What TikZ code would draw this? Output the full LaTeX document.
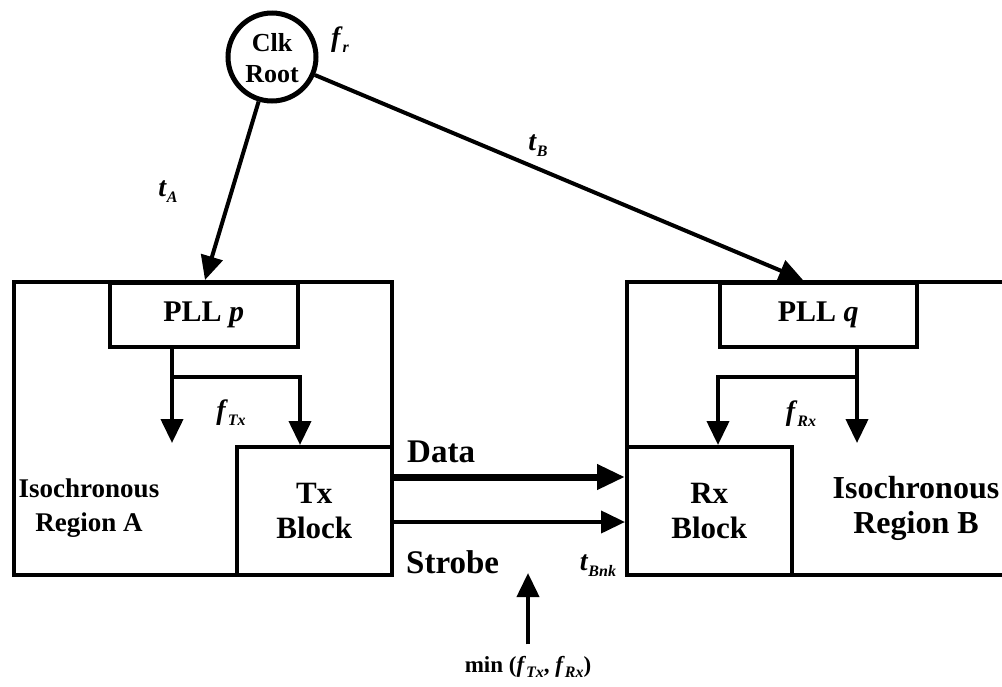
\documentclass[tikz,border=0pt]{standalone}
\usepackage{fontspec}
\setmainfont{Liberation Serif}
\usetikzlibrary{arrows.meta}
\newcommand{\sym}[2]{\textbf{\textit{#1}}\raisebox{-0.45ex}{\fontsize{16}{16}\selectfont\textbf{\textit{#2}}}}
\tikzset{
  region/.style={draw, line width=4pt, anchor=north west, inner sep=0pt},
  block/.style={draw, line width=3.5pt, anchor=north west, inner sep=0pt, fill=white},
  lbl/.style={font=\fontsize{30}{34}\selectfont\bfseries, align=center, inner sep=0pt},
  sm/.style={font=\fontsize{28}{30}\selectfont, inner sep=0pt},
  wire/.style={line width=4pt},
  tip/.style={-{Triangle[length=24pt,width=22pt]}},
  bigtip/.style={-{Triangle[length=28pt,width=24pt]}},
}
\begin{document}
\begin{tikzpicture}[x=1pt,y=-1pt]
\useasboundingbox (0,0) rectangle (1002,686);
\clip (0,0) rectangle (1002,686);

% clock root
\node[circle, draw, line width=5pt, minimum size=88pt, inner sep=0pt] (root) at (272,57) {};
\node[lbl, font=\fontsize{26}{31}\selectfont\bfseries] (roottxt) at (272,58) {Clk\\Root};
\node[sm] (fr) at (340,40) {\sym{f}{r}};

% isochronous regions
\node[region, minimum width=378pt, minimum height=293pt] (regA) at (12,280) {};
\node[region, minimum width=420pt, minimum height=293pt] (regB) at (625,280) {};

% PLLs
\node[block, minimum width=188pt, minimum height=64pt] (pllp) at (108,281) {};
\node[lbl] at (pllp.center) {PLL \textit{p}};
\node[block, minimum width=197pt, minimum height=64pt] (pllq) at (718,281) {};
\node[lbl] at (pllq.center) {PLL \textit{q}};

% Tx / Rx blocks
\node[block, minimum width=155pt, minimum height=128pt] (tx) at (235,445) {};
\node[lbl, font=\fontsize{31}{35}\selectfont\bfseries] at (tx.center) {Tx\\Block};
\node[block, minimum width=165pt, minimum height=128pt] (rx) at (625,445) {};
\node[lbl, font=\fontsize{31}{35}\selectfont\bfseries] at (rx.center) {Rx\\Block};

\node[lbl, font=\fontsize{27}{34}\selectfont\bfseries] (isoA) at (89,508) {Isochronous\\Region A};
\node[lbl, font=\fontsize{32}{35}\selectfont\bfseries] (isoB) at (916,508) {Isochronous\\Region B};

% clock distribution from the root
\coordinate (inA) at (205,280);
\coordinate (inB) at (803,280);
\draw[wire, tip] (root) -- (inA);
\draw[wire, tip] (root) -- (inB);
\node[sm] (tA) at (168,192) {\sym{t}{A}};
\node[sm] (tB) at (538,146) {\sym{t}{B}};

% PLL p outputs
\coordinate (pA) at (172,345);
\coordinate (jA) at (172,377);
\coordinate (endA) at (172,443);
\coordinate (kA) at (300,377);
\draw[wire, tip] (pA) -- (endA);
\draw[wire, tip] (jA) -- (kA) -- (tx.north -| kA);
\node[sm] (ftx) at (231,413) {\sym{f}{Tx}};

% PLL q outputs
\coordinate (pB) at (857,345);
\coordinate (jB) at (857,377);
\coordinate (endB) at (857,443);
\coordinate (kB) at (718,377);
\draw[wire, tip] (pB) -- (endB);
\draw[wire, tip] (jB) -- (kB) -- (rx.north -| kB);
\node[sm] (frx) at (801,414) {\sym{f}{Rx}};

% data and strobe links
\draw[line width=7pt, bigtip] (tx.east |- 0,477) -- (rx.west |- 0,477);
\draw[wire, tip] (tx.east |- 0,522) -- (rx.west |- 0,522);
\node[lbl, font=\fontsize{33}{35}\selectfont\bfseries, anchor=west] (data) at (407,452) {Data};
\node[lbl, font=\fontsize{33}{35}\selectfont\bfseries, anchor=west] (strobe) at (406,562) {Strobe};
\node[sm] (tbnk) at (598,566) {\sym{t}{Bnk}};

% strobe rate
\node[lbl, font=\fontsize{23}{26}\selectfont\bfseries] (min) at (528,667) {min (\sym{f}{Tx}, \sym{f}{Rx})};
\coordinate (minTop) at (528,573);
\draw[wire, tip] (min.north) ++(0,-12) -- (minTop);
\end{tikzpicture}
\end{document}
